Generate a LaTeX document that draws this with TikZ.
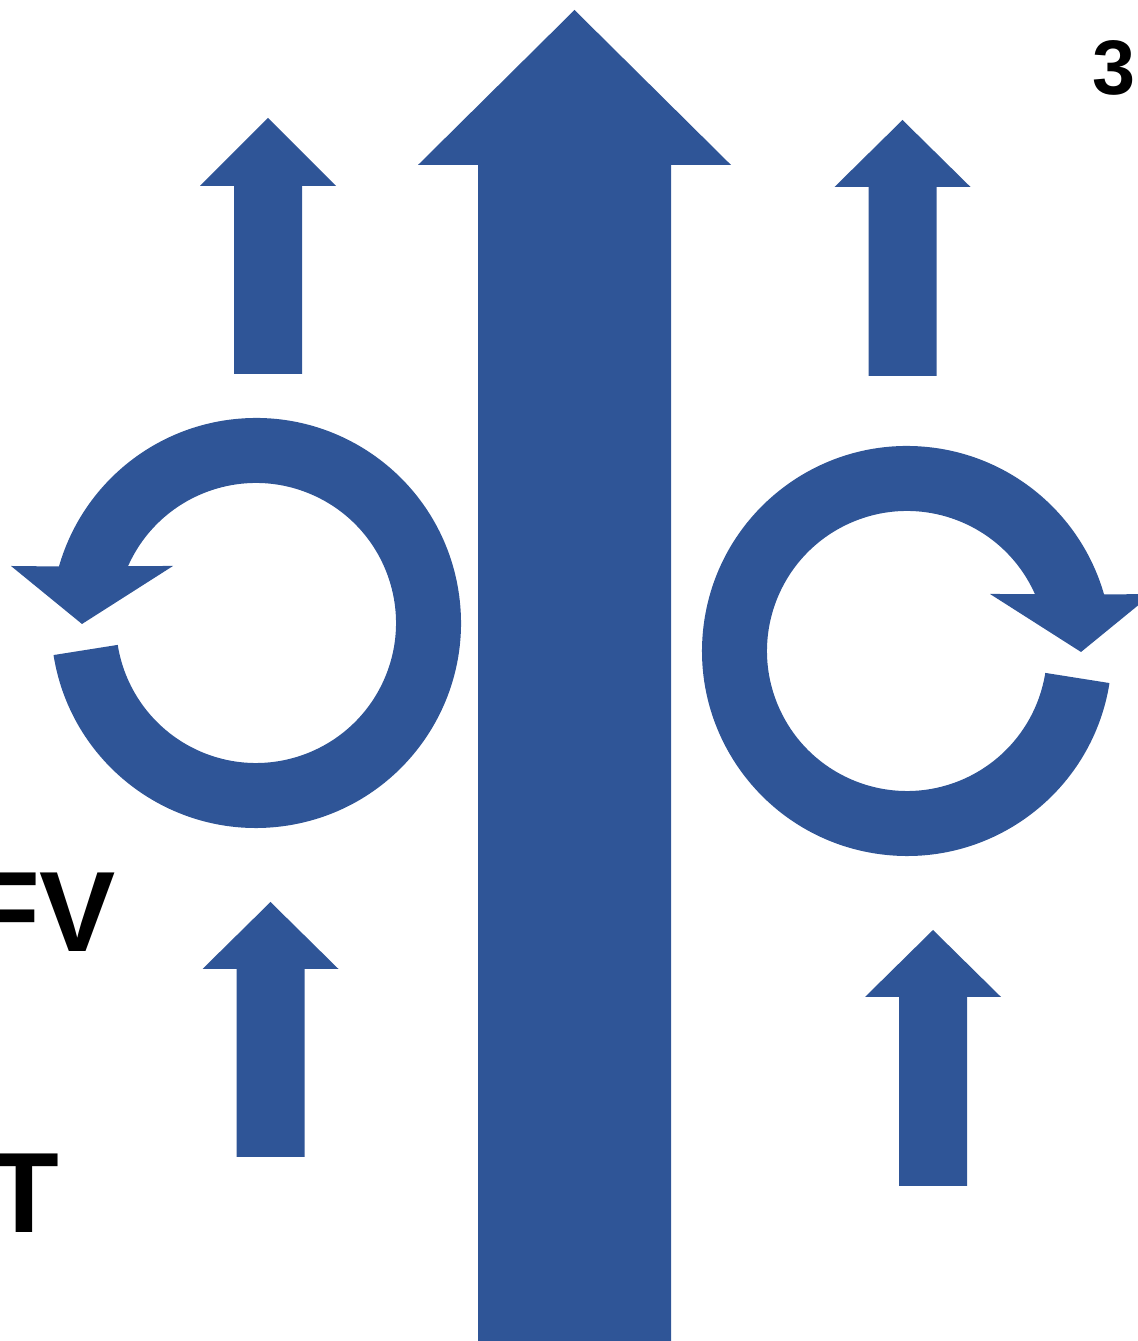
\documentclass[tikz,border=0pt]{standalone}
\usepackage{fontspec}
\setmainfont{Liberation Sans}
\usetikzlibrary{calc}
\definecolor{cflow}{HTML}{2F5597}
\tikzset{
  every picture/.style={x=0.02cm, y=0.02cm},
  flow/.style={fill=cflow, draw=none},
  tag/.style={font=\bfseries\fontsize{65}{78}\selectfont, inner sep=0pt},
  % ring arrow turning to the left, centre at the origin
  turn/.pic={
    \fill[flow] (189:205) arc[start angle=189, end angle=524, radius=205]
      -- (-245,57) -- (-174,-1) -- (-83,57) -- (156:140)
      arc[start angle=156, end angle=-171, radius=140] -- cycle;
  },
}
\begin{document}
\begin{tikzpicture}[
    rise/.style={flow}]
  \useasboundingbox (0,0) rectangle (1137,1341);
  % main stream
  \fill[rise] (478,-5) -- (478,1176) -- (418,1176) -- (574.5,1331)
    -- (731,1176) -- (671,1176) -- (671,-5) -- cycle;
  % centre x, tail, head base, tip
  \foreach \cx/\yt/\yb/\yp in {268/967/1155/1223, 902.5/965/1154/1221,
      270.5/184/372/439, 933/155/344/411} {
    \fill[rise] (\cx-34,\yt) -- (\cx-34,\yb) -- (\cx-68,\yb) -- (\cx,\yp)
      -- (\cx+68,\yb) -- (\cx+34,\yb) -- (\cx+34,\yt) -- cycle;
  }
  \pic (turnL) at (256,718) {turn};
  \pic[xscale=-1] (turnR) at (907,690) {turn};
  \node[tag, font=\bfseries\fontsize{44}{52}\selectfont, anchor=base west] (num) at (1092,1246) {3-4};
  \node[tag, anchor=base] (fv) at (43,389) {FV};
  \node[tag, anchor=base] (t) at (24,108) {T};
\end{tikzpicture}
\end{document}
